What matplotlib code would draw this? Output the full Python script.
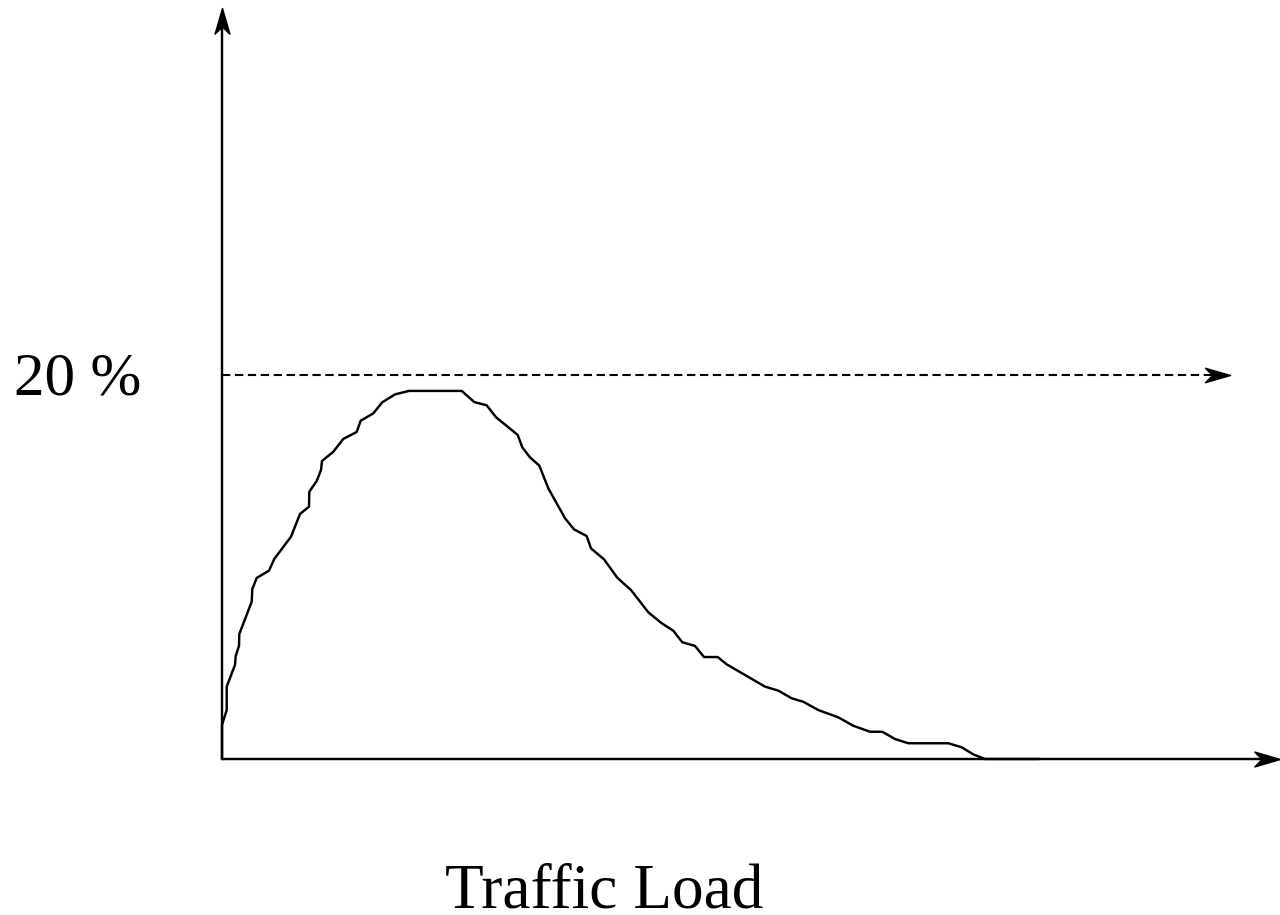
import numpy as np
import matplotlib.pyplot as plt
from matplotlib.path import Path

plt.rcParams['font.family'] = ['Liberation Serif', 'DejaVu Serif']

# curve: traffic load (arbitrary units) vs share (%)
load = [0.0, 0.0, 0.47, 0.47, 1.3, 1.37, 1.7, 1.73, 2.97, 3.03, 3.47, 4.7, 5.23,
        6.9, 7.8, 8.7, 8.73, 9.47, 9.9, 10.0, 11.13, 12.13, 13.47, 13.87, 15.13,
        16.03, 17.3, 18.7, 23.97, 25.23, 26.47, 27.4, 29.57, 30.03, 30.8, 31.73,
        32.63, 34.3, 35.2, 36.47, 36.9, 38.2, 39.53, 40.9, 42.63, 43.97, 45.13,
        46.03, 47.3, 48.2, 49.57, 50.47, 54.3, 55.63, 56.97, 58.13, 59.63, 61.63,
        63.13, 64.8, 66.03, 67.3, 68.63, 72.63, 73.97, 75.13, 76.3, 81.6]
share = [0.0, 1.77, 2.55, 3.77, 4.9, 5.36, 5.89, 6.51, 8.19, 8.85, 9.43, 9.81, 10.42,
         11.58, 12.76, 13.14, 13.92, 14.48, 15.05, 15.52, 16.0, 16.67, 17.03, 17.62,
         18.0, 18.58, 18.99, 19.17, 19.17, 18.59, 18.42, 17.8, 16.88, 16.23, 15.71,
         15.28, 14.1, 12.54, 11.96, 11.61, 10.97, 10.4, 9.44, 8.8, 7.64, 7.07, 6.68,
         6.08, 5.89, 5.31, 5.31, 4.93, 3.77, 3.56, 3.16, 2.98, 2.55, 2.17, 1.73,
         1.42, 1.42, 1.04, 0.82, 0.82, 0.61, 0.24, 0.0, 0.0]

threshold = 20
threshold_label = '20 %'
xlabel = 'Traffic Load'
x_end = 105.8      # end of the x axis arrow
y_end = 39.1       # end of the y axis arrow
dash_end = 100.8   # end of the threshold arrow

fig = plt.figure(figsize=(12.8, 9.15), dpi=100)
ax = fig.add_axes([0, 0, 1, 1])
ax.set_xlim(-22.2, 105.8)
ax.set_ylim(-8.125, 39.53)
ax.axis('off')


def head(angle):
    # notched arrow head, tip at origin, pointing along +x, then rotated
    v = np.array([[0, 0], [-1, 0.29], [-0.72, 0], [-1, -0.29], [0, 0]])
    c, s = np.cos(angle), np.sin(angle)
    v = v @ np.array([[c, s], [-s, c]])
    return Path(v, [Path.MOVETO, Path.LINETO, Path.LINETO, Path.LINETO, Path.CLOSEPOLY])


lw = 1.75
ax.plot([0, x_end - 1], [0, 0], color='black', lw=lw, solid_capstyle='butt')
ax.plot([0, 0], [0, y_end - 0.5], color='black', lw=lw, solid_capstyle='butt')
ax.plot([0, dash_end - 1.5], [threshold, threshold], color='black', lw=1.5,
        linestyle=(0, (4.0, 2.2)))
ax.plot([x_end], [0], marker=head(0), markersize=37, color='black', lw=0)
ax.plot([0], [y_end], marker=head(np.pi / 2), markersize=37, color='black', lw=0)
ax.plot([dash_end], [threshold], marker=head(0), markersize=36, color='black', lw=0)

ax.plot(load, share, color='black', lw=lw)

ax.text(-14.45, 18.96, threshold_label, fontsize=44, ha='center', va='baseline')
ax.text(38.25, -7.76, xlabel, fontsize=45.5, ha='center', va='baseline')

fig.savefig('out.png', dpi=100)
